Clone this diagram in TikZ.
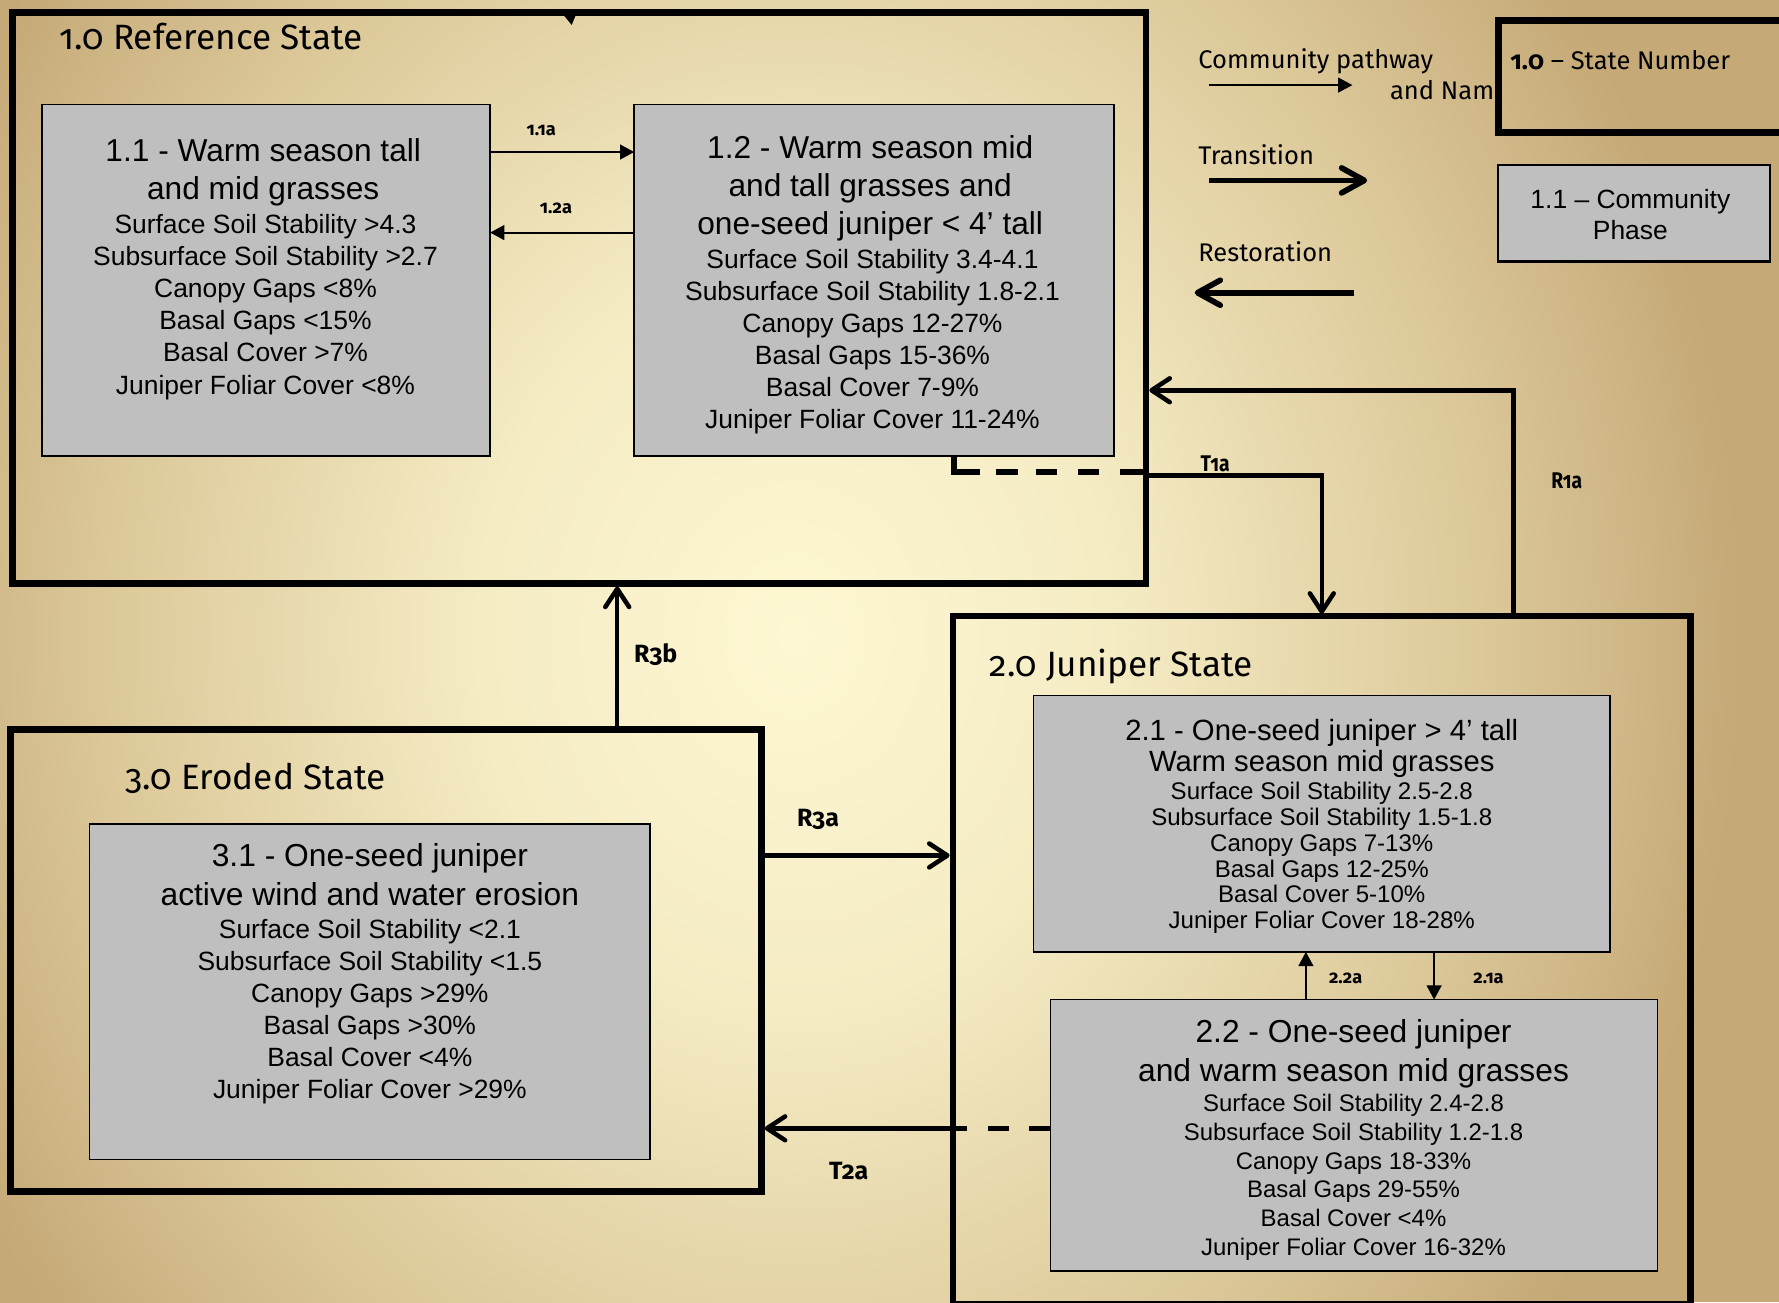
\documentclass[tikz,border=0pt]{standalone}
\usepackage{fontspec}
\setmainfont{Liberation Sans}
\newfontfamily\cand{Fira Sans}[Numbers=OldStyle]
\usetikzlibrary{arrows.meta}
\definecolor{bgout}{HTML}{C5A977}
\definecolor{boxgray}{HTML}{BFBFBF}
\pgfdeclareradialshading{bgshade}{\pgfpoint{0bp}{0bp}}{rgb(0bp)=(.992,.969,.827); rgb(8bp)=(.961,.925,.769); rgb(17bp)=(.867,.792,.608); rgb(24bp)=(.773,.663,.467); rgb(50bp)=(.773,.663,.467)}
\newcommand\fsz[2]{\fontsize{#1}{#2}\selectfont}
\tikzset{
  statebox/.style={draw, line width=6pt, inner sep=0pt, outer sep=0pt, anchor=north west},
  phasebox/.style={draw, line width=1.5pt, fill=boxgray, inner sep=0pt, outer sep=0pt, anchor=north west},
  phtxt/.style={align=center, inner sep=0pt, anchor=north},
  lgtxt/.style={inner sep=0pt, anchor=base west, font=\cand\fsz{22.5}{27}},
  sttl/.style={inner sep=0pt, anchor=base west, font=\cand\fsz{31}{36}},
  smlab/.style={inner sep=0pt, font=\cand\bfseries\fsz{16}{19}},
  biglab/.style={inner sep=0pt, font=\cand\bfseries\fsz{22}{26}},
  narlab/.style={inner sep=0pt, font=\cand\bfseries\fsz{20}{24}},
  cpath/.style={line width=1.8pt, -{Triangle[length=12.5pt,width=13pt]}},
  trans/.style={line width=4pt, -{Straight Barb[round,length=16pt,width=21pt]}},
  dashline/.style={line width=5pt},
}
\begin{document}
\begin{tikzpicture}[x=1pt,y=-1pt]
\useasboundingbox (0,0) rectangle (1568,1148);
\clip (0,0) rectangle (1568,1148);
% background
\fill[bgout] (0,0) rectangle (1568,1148);
\shade[shading=bgshade] (700,560) ellipse [x radius=870, y radius=1020];

% states
\node[statebox, minimum width=999pt, minimum height=503pt] (s1) at (11,11) {};
\node[statebox, minimum width=650pt, minimum height=607pt] (s2) at (840,543) {};
\node[statebox, minimum width=662pt, minimum height=407pt] (s3) at (9,643) {};

\node[sttl] (s1t) at (52,44) {1.0 Reference State};
\node[sttl] (s2t) at (872,596) {2.0 Juniper State};
\node[sttl] (s3t) at (110,696) {3.0 Eroded State};

% stray arrow tip at top
\fill (495,11.2) -- (508.3,11.2) -- (503.9,22) -- cycle;

% phase boxes
\node[phasebox, minimum width=395pt, minimum height=310pt] (b11) at (37,92) {};
\node[phasebox, minimum width=423pt, minimum height=310pt] (b12) at (559,92) {};
\node[phasebox, minimum width=508pt, minimum height=226pt] (b21) at (911,613) {};
\node[phasebox, minimum width=535pt, minimum height=239pt] (b22) at (926,881) {};
\node[phasebox, minimum width=494pt, minimum height=296pt] (b31) at (79,726) {};

\node[phtxt, font=\fsz{27.9}{34}] (b11t) at (232,121.6) {1.1 - Warm season tall\\and mid grasses};
\node[phtxt, font=\fsz{23.3}{28.4}] (b11b) at (234,188.3) {Surface Soil Stability >4.3\\Subsurface Soil Stability >2.7\\Canopy Gaps <8\%\\Basal Gaps <15\%\\Basal Cover >7\%\\Juniper Foliar Cover <8\%};

\node[phtxt, font=\fsz{27.9}{33.5}] (b12t) at (767,119.6) {1.2 - Warm season mid\\and tall grasses and\\one-seed juniper < 4’ tall};
\node[phtxt, font=\fsz{23.3}{28.2}] (b12b) at (769,219.3) {Surface Soil Stability 3.4-4.1\\Subsurface Soil Stability 1.8-2.1\\Canopy Gaps 12-27\%\\Basal Gaps 15-36\%\\Basal Cover 7-9\%\\Juniper Foliar Cover 11-24\%};

\node[phtxt, font=\fsz{25.8}{28}] (b21t) at (1165,633.4) {2.1 - One-seed juniper > 4’ tall\\Warm season mid grasses};
\node[phtxt, font=\fsz{21.2}{22.8}] (b21b) at (1165,689.1) {Surface Soil Stability 2.5-2.8\\Subsurface Soil Stability 1.5-1.8\\Canopy Gaps 7-13\%\\Basal Gaps 12-25\%\\Basal Cover 5-10\%\\Juniper Foliar Cover 18-28\%};

\node[phtxt, font=\fsz{28}{34}] (b22t) at (1193,898.6) {2.2 - One-seed juniper\\and warm season mid grasses};
\node[phtxt, font=\fsz{21.1}{25.4}] (b22b) at (1193,964.1) {Surface Soil Stability 2.4-2.8\\Subsurface Soil Stability 1.2-1.8\\Canopy Gaps 18-33\%\\Basal Gaps 29-55\%\\Basal Cover <4\%\\Juniper Foliar Cover 16-32\%};

\node[phtxt, font=\fsz{28}{34}] (b31t) at (326,743.6) {3.1 - One-seed juniper\\active wind and water erosion};
\node[phtxt, font=\fsz{23.3}{28.2}] (b31b) at (326,810.3) {Surface Soil Stability <2.1\\Subsurface Soil Stability <1.5\\Canopy Gaps >29\%\\Basal Gaps >30\%\\Basal Cover <4\%\\Juniper Foliar Cover >29\%};

% community pathways
\draw[cpath] (b11.east |- 0,134) -- (b12.west |- 0,134);
\draw[cpath] (b12.west |- 0,205) -- (b11.east |- 0,205);
\node[smlab] (l11a) at (477,114.6) {1.1a};
\node[smlab] (l12a) at (490,183.5) {1.2a};
\draw[cpath] (b22.north -| 1151,0) -- (b21.south -| 1151,0);
\draw[cpath] (b21.south -| 1264,0) -- (b22.north -| 1264,0);
\node[smlab] (l22a) at (1186,862) {2.2a};
\node[smlab] (l21a) at (1312,862) {2.1a};

% T1a
\coordinate (t1a0) at (841,402);
\coordinate (t1a1) at (1010,416);
\coordinate (t1a2) at (1010,419);
\coordinate (t1a3) at (1165,541);
\draw[dashline, dash pattern=on 37pt off 14pt on 19pt off 16pt on 19pt off 18pt on 19pt off 18pt on 20pt off 20pt] (t1a0) |- (t1a1);
\draw[trans] (t1a2) -| (t1a3);
\node[narlab, xscale=0.85] (lt1a) at (1071,409) {T1a};

% R1a
\coordinate (r1a0) at (1334,543);
\coordinate (r1a1) at (1013,344);
\draw[trans] (r1a0) |- (r1a1);
\node[narlab, xscale=0.85] (lr1a) at (1381,424) {R1a};

% R3b
\coordinate (r3b0) at (544,643);
\coordinate (r3b1) at (544,517);
\draw[trans] (r3b0) -- (r3b1);
\node[biglab] (lr3b) at (578,577) {R3b};

% R3a
\coordinate (r3a0) at (671,754);
\coordinate (r3a1) at (837,754);
\draw[trans] (r3a0) -- (r3a1);
\node[biglab] (lr3a) at (721,722) {R3a};

% T2a
\coordinate (t2a0) at (926,994.5);
\coordinate (t2a1) at (840,994.5);
\coordinate (t2a2) at (674,994.5);
\draw[dashline, dash pattern=on 19pt off 18pt on 18pt off 19pt on 12pt off 20pt] (t2a0) -- (t2a1);
\draw[trans] (t2a1) -- (t2a2);
\node[biglab] (lt2a) at (748,1032) {T2a};

% legend
\node[lgtxt] (lg1) at (1056,60) {Community pathway};
\coordinate (lga0) at (1066,75);
\coordinate (lga1) at (1192,75);
\draw[cpath, line width=1.6pt] (lga0) -- (lga1);
\begin{scope}
\clip (1000,60) rectangle (1320,110);
\node[lgtxt] (lg2) at (1225,88) {and Name};
\end{scope}
\node[inner sep=0pt, outer sep=0pt, anchor=north west, draw, line width=6pt, minimum width=300pt, minimum height=99pt] (lgs) at (1321,18) {};
\node[lgtxt] (lgst) at (1331,61) {\textbf{1.0} – State Number};
\node[lgtxt] (lg3) at (1056,144.6) {Transition};
\coordinate (lgt0) at (1066,159);
\coordinate (lgt1) at (1205,159);
\draw[line width=5pt, -{Straight Barb[round,length=20pt,width=22pt]}] (lgt0) -- (lgt1);
\node[lgtxt] (lg4) at (1056,230.6) {Restoration};
\coordinate (lgr0) at (1193,258);
\coordinate (lgr1) at (1053,258);
\draw[line width=5pt, -{Straight Barb[round,length=20pt,width=22pt]}] (lgr0) -- (lgr1);
\node[phasebox, line width=2pt, minimum width=240pt, minimum height=85pt] (lgp) at (1320,145.4) {};
\node[phtxt, font=\fsz{23.3}{27.7}] (lgpt) at (1437,166.3) {1.1 – Community\\Phase};
\end{tikzpicture}
\end{document}
